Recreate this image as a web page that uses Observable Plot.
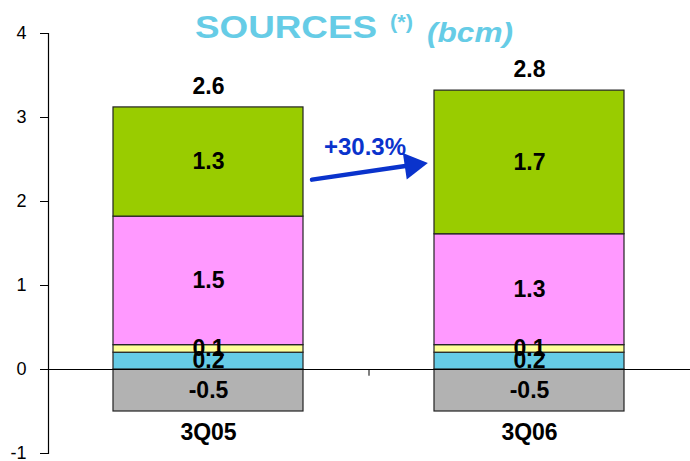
<!DOCTYPE html>
<html>
<head>
<meta charset="utf-8">
<script src="https://cdn.jsdelivr.net/npm/d3@7"></script>
<script src="https://cdn.jsdelivr.net/npm/@observablehq/plot@0.6"></script>
<style>
  body { margin: 0; background: #fff; }
  #chart { width: 690px; height: 461px; }
</style>
</head>
<body>
<div id="chart"></div>
<script>
// ---- Data ----
const quarters = ["3Q05", "3Q06"];
const seriesNames = ["Source 1", "Source 2", "Source 3", "Source 4", "Source 5"];
const seriesColors = ["#B2B2B2", "#66CCE6", "#FFFF99", "#FF99FF", "#99CC00"];
const source1Values = [-0.5, -0.5];
const source2Values = [0.2, 0.2];
const source3Values = [0.09, 0.09];
const source4Values = [1.53, 1.32];
const source5Values = [1.30, 1.71];
const yTicks = [-1, 0, 1, 2, 3, 4];
const growthLabel = "+30.3%";
const titleMain = "SOURCES";
const titleNote = "(*)";
const titleUnit = "(bcm)";

// ---- Build table ----
const seriesValues = [source1Values, source2Values, source3Values, source4Values, source5Values];
const rows = [];
seriesNames.forEach((name, i) => {
  quarters.forEach((q, j) => {
    rows.push({quarter: q, series: name, value: seriesValues[i][j]});
  });
});
const totals = quarters.map((q, j) => d3.sum(seriesValues, s => s[j]));
const tops = quarters.map((q, j) => d3.sum(seriesValues, s => Math.max(0, s[j])));
const totalRows = quarters.map((q, j) => ({quarter: q, top: tops[j], label: totals[j].toFixed(1)}));

const arrowRows = [{from: quarters[0], to: quarters[1], yFrom: 2.08, yTo: 2.64}];
const headRows = [{q: quarters[1], y: 2.433}];
const growthRows = [{q: quarters[0], y: 2.643, label: growthLabel}];

const blue = "#0A33CC";
const font = "'Liberation Sans', Arial, Helvetica, sans-serif";

const svg = Plot.plot({
  width: 690,
  height: 461,
  marginLeft: 48,
  marginRight: 0,
  marginTop: 33,
  marginBottom: 8,
  style: {fontFamily: font, background: "white", color: "black"},
  x: {domain: quarters, paddingInner: 0.408, paddingOuter: 0.204, axis: null},
  y: {domain: [-1, 4], axis: null},
  color: {type: "ordinal", domain: seriesNames, range: seriesColors},
  marks: [
    Plot.barY(rows, Plot.stackY({
      x: "quarter", y: "value", fill: "series",
      stroke: "#222", strokeWidth: 1.2
    })),
    Plot.ruleY([0], {stroke: "black", strokeWidth: 1.2}),
    Plot.ruleX([quarters[1]], {x: d => d, dx: -160.5, y1: 0, y2: -0.08, stroke: "black"}),
    Plot.frame({anchor: "left", stroke: "black", strokeWidth: 1.2}),
    Plot.axisY({
      ticks: yTicks, tickSize: 8, tickPadding: 14, fontSize: 18,
      tickFormat: d => String(d), label: null, stroke: "black"
    }),
    Plot.text(rows, Plot.stackY({
      x: "quarter", y: "value", text: d => d.value.toFixed(1),
      fontSize: 23, fontWeight: "bold", fill: "black"
    })),
    Plot.text(totalRows, {
      x: "quarter", y: "top", text: "label", dy: -21,
      fontSize: 23, fontWeight: "bold", fill: "black"
    }),
    Plot.text(quarters, {
      x: d => d, y: () => -1, dy: -21, text: d => d,
      fontSize: 23, fontWeight: "bold", fill: "black"
    }),
    Plot.arrow(arrowRows, {
      x1: "from", x2: "to", y1: "yFrom", y2: "yTo",
      insetStart: 104.6, insetEnd: 122, headLength: 0,
      stroke: blue, strokeWidth: 4.5
    }),
    Plot.dot(headRows, {
      x: "q", y: "y", dx: -117, symbol: "triangle", r: 10, rotate: 81.7,
      fill: blue, stroke: "none"
    }),
    Plot.text(growthRows, {
      x: "q", y: "y", dx: 156.5, text: "label",
      fontSize: 24, fontWeight: "bold", fill: blue
    })
  ]
});

// Title (real SVG text)
const sel = d3.select(svg);
const titleColor = "#66CCE6";
sel.append("text").attr("x", 195).attr("y", 38).attr("text-anchor", "start")
  .attr("font-family", font).attr("font-size", 32).attr("font-weight", "bold")
  .attr("fill", titleColor).attr("textLength", 182).attr("lengthAdjust", "spacingAndGlyphs")
  .text(titleMain);
sel.append("text").attr("x", 390).attr("y", 29).attr("text-anchor", "start")
  .attr("font-family", font).attr("font-size", 20).attr("font-weight", "bold")
  .attr("fill", titleColor).attr("textLength", 23).attr("lengthAdjust", "spacingAndGlyphs")
  .text(titleNote);
sel.append("text").attr("x", 427).attr("y", 41.5).attr("text-anchor", "start")
  .attr("font-family", font).attr("font-size", 28).attr("font-weight", "bold").attr("font-style", "italic")
  .attr("fill", titleColor).attr("textLength", 86).attr("lengthAdjust", "spacingAndGlyphs")
  .text(titleUnit);

document.getElementById("chart").appendChild(svg);
</script>
</body>
</html>
